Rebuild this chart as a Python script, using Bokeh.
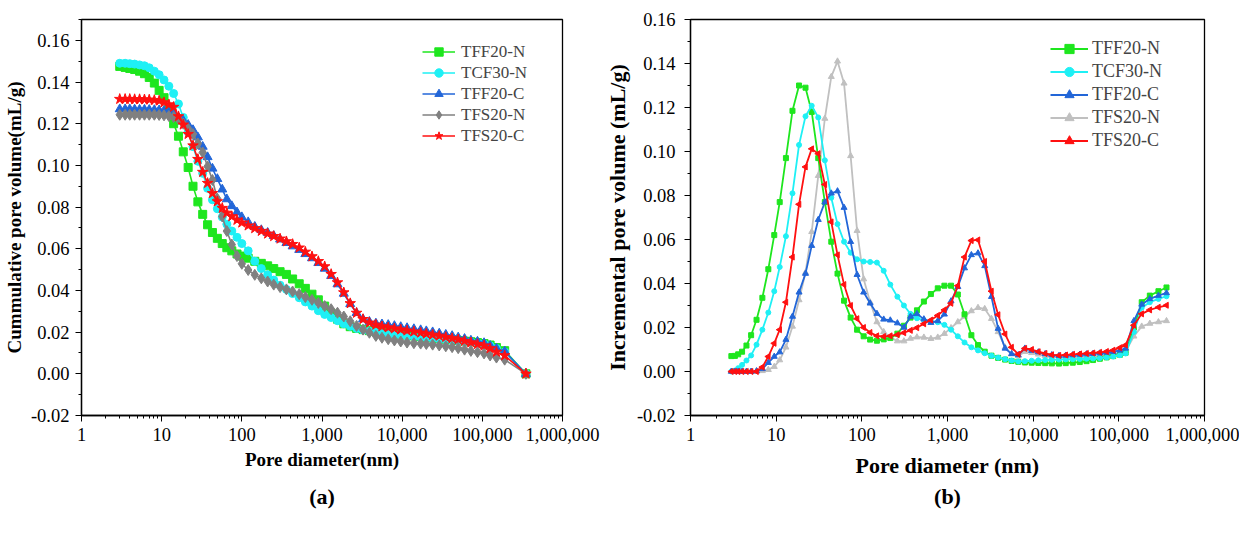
from bokeh.plotting import figure
from bokeh.models import FixedTicker, Legend, LegendItem, Title, Range1d, NumeralTickFormatter
from bokeh.layouts import row
from bokeh.embed import file_html
from bokeh.resources import INLINE

# ---------------- data: (a) cumulative pore volume ----------------
cum_d = [3.0, 3.5, 4.0, 4.6, 5.3, 6.1, 7.0, 8.1, 9.3, 10.7, 12.3, 14.1, 16.2, 18.6, 21.4, 24.6,
         28.3, 32.5, 37.4, 43.0, 49.5, 57, 65, 75, 87, 100, 120, 145, 175, 210, 250, 300, 360,
         430, 520, 620, 750, 900, 1080, 1300, 1560, 1870, 2250, 2700, 3250, 3900, 4700, 5600,
         6700, 8000, 9600, 11500, 14000, 17000, 20000, 24000, 29000, 35000, 42000, 50000, 60000,
         72000, 87000, 105000, 125000, 150000, 190000, 350000]
cum_tff20n = [0.1475, 0.1470, 0.1465, 0.1460, 0.1452, 0.1440, 0.1422, 0.1395, 0.1360, 0.1325, 0.1270,
              0.1200, 0.1140, 0.1065, 0.0990, 0.0900, 0.0825, 0.0765, 0.0715, 0.0678, 0.0650, 0.0625,
              0.0605, 0.0590, 0.0575, 0.0565, 0.0555, 0.0540, 0.0530, 0.0518, 0.0505, 0.0490, 0.0477,
              0.0455, 0.0432, 0.0410, 0.0382, 0.0355, 0.0325, 0.0290, 0.0262, 0.0240, 0.0226, 0.0218,
              0.0212, 0.0207, 0.0203, 0.0200, 0.0197, 0.0194, 0.0190, 0.0186, 0.0182, 0.0178, 0.0175,
              0.0172, 0.0169, 0.0166, 0.0163, 0.0160, 0.0157, 0.0154, 0.0150, 0.0145, 0.0138, 0.0126,
              0.0111, 0.0]
cum_tcf30n = [0.1490, 0.1490, 0.1488, 0.1486, 0.1482, 0.1478, 0.1468, 0.1452, 0.1435, 0.1410, 0.1380,
              0.1345, 0.1295, 0.1230, 0.1160, 0.1090, 0.1020, 0.0962, 0.0890, 0.0835, 0.0792, 0.0752,
              0.0718, 0.0685, 0.0655, 0.0625, 0.0590, 0.0540, 0.0505, 0.0475, 0.0450, 0.0425, 0.0405,
              0.0385, 0.0365, 0.0345, 0.0325, 0.0303, 0.0285, 0.0270, 0.0255, 0.0240, 0.0228, 0.0218,
              0.0210, 0.0204, 0.0200, 0.0196, 0.0192, 0.0188, 0.0185, 0.0182, 0.0179, 0.0176, 0.0173,
              0.0170, 0.0167, 0.0164, 0.0161, 0.0158, 0.0155, 0.0152, 0.0148, 0.0143, 0.0135, 0.0122,
              0.0105, 0.0]
cum_tff20c = [0.1270, 0.1270, 0.1270, 0.1269, 0.1268, 0.1268, 0.1267, 0.1266, 0.1265, 0.1263, 0.1255,
              0.1245, 0.1230, 0.1215, 0.1195, 0.1170, 0.1135, 0.1090, 0.1040, 0.0985, 0.0935, 0.0885,
              0.0838, 0.0805, 0.0775, 0.0752, 0.0728, 0.0706, 0.0690, 0.0677, 0.0662, 0.0645, 0.0628,
              0.0612, 0.0595, 0.0575, 0.0555, 0.0532, 0.0505, 0.0470, 0.0430, 0.0385, 0.0335, 0.0292,
              0.0262, 0.0250, 0.0242, 0.0238, 0.0235, 0.0230, 0.0225, 0.0220, 0.0215, 0.0210, 0.0205,
              0.0200, 0.0194, 0.0188, 0.0182, 0.0175, 0.0168, 0.0160, 0.0155, 0.0148, 0.0135, 0.0122,
              0.0108, 0.0]
cum_tfs20n = [0.1243, 0.1243, 0.1243, 0.1243, 0.1243, 0.1243, 0.1243, 0.1243, 0.1242, 0.1240, 0.1237,
              0.1232, 0.1222, 0.1200, 0.1176, 0.1150, 0.1105, 0.1062, 0.0995, 0.0930, 0.0840, 0.0755,
              0.0685, 0.0620, 0.0565, 0.0528, 0.0498, 0.0475, 0.0458, 0.0443, 0.0428, 0.0416, 0.0405,
              0.0395, 0.0382, 0.0368, 0.0355, 0.0340, 0.0325, 0.0310, 0.0293, 0.0275, 0.0252, 0.0230,
              0.0212, 0.0197, 0.0182, 0.0173, 0.0166, 0.0160, 0.0155, 0.0150, 0.0147, 0.0145, 0.0143,
              0.0140, 0.0136, 0.0132, 0.0128, 0.0123, 0.0116, 0.0110, 0.0104, 0.0098, 0.0088, 0.0078,
              0.0068, 0.0]
cum_tfs20c = [0.1318, 0.1318, 0.1318, 0.1317, 0.1317, 0.1316, 0.1315, 0.1313, 0.1310, 0.1302, 0.1292,
              0.1280, 0.1235, 0.1195, 0.1150, 0.1095, 0.1030, 0.0968, 0.0915, 0.0866, 0.0827, 0.0795,
              0.0772, 0.0755, 0.0738, 0.0725, 0.0711, 0.0698, 0.0685, 0.0672, 0.0660, 0.0648, 0.0635,
              0.0622, 0.0605, 0.0585, 0.0563, 0.0540, 0.0515, 0.0478, 0.0438, 0.0390, 0.0338, 0.0292,
              0.0262, 0.0245, 0.0235, 0.0227, 0.0222, 0.0217, 0.0212, 0.0207, 0.0202, 0.0197, 0.0192,
              0.0187, 0.0182, 0.0176, 0.0170, 0.0164, 0.0157, 0.0150, 0.0142, 0.0135, 0.0122, 0.0105,
              0.0088, 0.0]

# ---------------- data: (b) incremental pore volume ----------------
inc_d = [3.0, 3.3, 3.6, 4.0, 4.5, 5.1, 5.9, 6.9, 8.1, 9.5, 11.0, 13.0, 15.5, 18.5, 22.0, 26.0, 31.0,
         37.0, 44.0, 52.0, 62, 74, 88, 105, 125, 150, 180, 215, 260, 310, 370, 440, 530, 640, 770,
         920, 1100, 1320, 1580, 1900, 2270, 2720, 3260, 3900, 4700, 5600, 6700, 8000, 9600, 11500,
         13800, 16500, 20000, 24000, 29000, 35000, 42000, 50000, 60000, 72000, 86000, 103000,
         120000, 150000, 185000, 230000, 290000, 360000]
inc_tff20n = [0.0070, 0.0071, 0.0078, 0.0090, 0.0118, 0.0165, 0.0235, 0.0335, 0.0465, 0.0620, 0.0770,
              0.0970, 0.1185, 0.1300, 0.1290, 0.1180, 0.0970, 0.0770, 0.0590, 0.0445, 0.0322, 0.0245,
              0.0190, 0.0160, 0.0145, 0.0140, 0.0146, 0.0152, 0.0172, 0.0208, 0.0245, 0.0278, 0.0318,
              0.0352, 0.0378, 0.0390, 0.0390, 0.0350, 0.0260, 0.0165, 0.0120, 0.0090, 0.0072, 0.0062,
              0.0054, 0.0048, 0.0044, 0.0041, 0.0040, 0.0039, 0.0038, 0.0037, 0.0036, 0.0038, 0.0040,
              0.0043, 0.0047, 0.0052, 0.0058, 0.0064, 0.0070, 0.0076, 0.0085, 0.0200, 0.0315, 0.0345,
              0.0365, 0.0382]
inc_tcf30n = [0.0000, 0.0004, 0.0015, 0.0030, 0.0050, 0.0073, 0.0122, 0.0190, 0.0268, 0.0365, 0.0475,
              0.0615, 0.0810, 0.1030, 0.1160, 0.1208, 0.1155, 0.0960, 0.0790, 0.0670, 0.0590, 0.0540,
              0.0510, 0.0500, 0.0498, 0.0495, 0.0458, 0.0395, 0.0340, 0.0300, 0.0262, 0.0242, 0.0233,
              0.0228, 0.0224, 0.0212, 0.0190, 0.0160, 0.0132, 0.0110, 0.0096, 0.0083, 0.0072, 0.0063,
              0.0056, 0.0050, 0.0046, 0.0047, 0.0049, 0.0051, 0.0052, 0.0053, 0.0054, 0.0055, 0.0056,
              0.0057, 0.0058, 0.0059, 0.0061, 0.0064, 0.0068, 0.0074, 0.0082, 0.0180, 0.0290, 0.0315,
              0.0330, 0.0342]
inc_tff20c = [0.0, 0.0, 0.0, 0.0, 0.0, 0.0, 0.0002, 0.0012, 0.0040, 0.0068, 0.0088,
              0.0145, 0.0250, 0.0360, 0.0445, 0.0572, 0.0690, 0.0770, 0.0810, 0.0820, 0.0745, 0.0590,
              0.0440, 0.0360, 0.0310, 0.0263, 0.0237, 0.0233, 0.0220, 0.0200, 0.0250, 0.0262, 0.0238,
              0.0222, 0.0230, 0.0260, 0.0320, 0.0385, 0.0470, 0.0530, 0.0538, 0.0480, 0.0340, 0.0195,
              0.0105, 0.0080, 0.0075, 0.0105, 0.0095, 0.0088, 0.0080, 0.0075, 0.0072, 0.0073, 0.0075,
              0.0077, 0.0079, 0.0081, 0.0083, 0.0086, 0.0090, 0.0096, 0.0105, 0.0230, 0.0305, 0.0330,
              0.0345, 0.0357]
inc_tfs20n = [0.0, 0.0, 0.0, 0.0, 0.0, 0.0, 0.0, 0.0003, 0.0008, 0.0022, 0.0052,
              0.0110, 0.0205, 0.0325, 0.0450, 0.0635, 0.0890, 0.1150, 0.1340, 0.1410, 0.1310, 0.0980,
              0.0640, 0.0420, 0.0315, 0.0225, 0.0180, 0.0155, 0.0138, 0.0138, 0.0150, 0.0156, 0.0155,
              0.0149, 0.0155, 0.0172, 0.0198, 0.0225, 0.0250, 0.0275, 0.0290, 0.0285, 0.0240, 0.0180,
              0.0110, 0.0080, 0.0070, 0.0090, 0.0085, 0.0078, 0.0072, 0.0068, 0.0065, 0.0064, 0.0064,
              0.0065, 0.0066, 0.0067, 0.0069, 0.0072, 0.0076, 0.0082, 0.0092, 0.0160, 0.0205, 0.0218,
              0.0225, 0.0230]
inc_tfs20c = [0.0, 0.0, 0.0, 0.0, 0.0, 0.0, 0.0, 0.0020, 0.0068, 0.0128, 0.0190,
              0.0315, 0.0520, 0.0760, 0.0930, 0.1012, 0.0990, 0.0850, 0.0680, 0.0530, 0.0395, 0.0300,
              0.0240, 0.0200, 0.0177, 0.0162, 0.0159, 0.0162, 0.0167, 0.0176, 0.0187, 0.0199, 0.0217,
              0.0234, 0.0255, 0.0280, 0.0310, 0.0390, 0.0520, 0.0595, 0.0598, 0.0500, 0.0365, 0.0258,
              0.0170, 0.0110, 0.0078, 0.0105, 0.0100, 0.0090, 0.0082, 0.0076, 0.0073, 0.0075, 0.0078,
              0.0080, 0.0082, 0.0084, 0.0087, 0.0091, 0.0097, 0.0108, 0.0120, 0.0210, 0.0262, 0.0280,
              0.0292, 0.0301]

series_names = ["TFF20-N", "TCF30-N", "TFF20-C", "TFS20-N", "TFS20-C"]
x_ticks = [1, 10, 100, 1000, 10000, 100000, 1000000]
x_tick_labels = ["1", "10", "100", "1,000", "10,000", "100,000", "1,000,000"]
y_ticks = [-0.02, 0.0, 0.02, 0.04, 0.06, 0.08, 0.10, 0.12, 0.14, 0.16]

FONT = "Liberation Serif"
x_minor = [m * 10 ** k for k in range(6) for m in range(2, 10)]
y_minor = [-0.02 + 0.01 * i for i in range(20)]


def style(p, tick_size, label_size, xl_std, xa_std, yl_std, ya_std):
    p.xgrid.visible = False
    p.ygrid.visible = False
    p.outline_line_color = "black"
    p.outline_line_width = 1.3
    p.xaxis.ticker = FixedTicker(ticks=x_ticks, minor_ticks=x_minor)
    p.xaxis.major_label_overrides = {t: s for t, s in zip(x_ticks, x_tick_labels)}
    p.yaxis.ticker = FixedTicker(ticks=y_ticks, minor_ticks=y_minor)
    p.yaxis.formatter = NumeralTickFormatter(format="0.00")
    for ax in (p.xaxis[0], p.yaxis[0]):
        ax.axis_line_color = "black"
        ax.axis_line_width = 1.3
        ax.major_tick_line_color = "black"
        ax.minor_tick_line_color = "black"
        ax.major_tick_in = 0
        ax.major_tick_out = 6
        ax.minor_tick_in = 0
        ax.minor_tick_out = 3
        ax.major_label_text_font = FONT
        ax.major_label_text_font_size = tick_size
        ax.major_label_text_color = "black"
        ax.axis_label_text_font = FONT
        ax.axis_label_text_font_style = "bold"
        ax.axis_label_text_font_size = label_size
        ax.axis_label_text_color = "black"
    p.xaxis.major_label_standoff = xl_std
    p.xaxis.axis_label_standoff = xa_std
    p.yaxis.major_label_standoff = yl_std
    p.yaxis.axis_label_standoff = ya_std
    p.yaxis.major_label_orientation = "horizontal"


# ---------------- figure (a) ----------------
pa = figure(width=600, height=528, x_axis_type="log",
            x_range=Range1d(1, 1e6), y_range=Range1d(-0.02, 0.17),
            min_border_left=78, min_border_right=38, min_border_top=19, min_border_bottom=113,
            output_backend="svg", toolbar_location=None)
style(pa, "18.5px", "19px", 6, 5, 6, 3)
pa.xaxis.axis_label = "Pore diameter(nm)"
pa.yaxis.axis_label = "Cummulative pore volume(mL/g)"

cum_series = [cum_tff20n, cum_tcf30n, cum_tff20c, cum_tfs20n, cum_tfs20c]
cum_colors = ["#1ee61e", "#1ef0f5", "#2266d8", "#808080", "#ff1010"]
cum_markers = ["square", "circle", "triangle", "diamond", "star"]
cum_sizes = [8, 8, 9, 11, 11]
items_a = []
for name, ys, c, m, s in zip(series_names, cum_series, cum_colors, cum_markers, cum_sizes):
    lr = pa.line(cum_d, ys, line_color=c, line_width=1.6)
    sr = pa.scatter(cum_d, ys, marker=m, size=s, fill_color=c, line_color=c)
    items_a.append(LegendItem(label=name, renderers=[lr, sr]))
leg_a = Legend(items=items_a, location=(341, 269), padding=0, spacing=0, margin=0,
               glyph_width=33, glyph_height=21, label_height=21, label_standoff=6,
               label_text_font=FONT, label_text_font_size="17px",
               border_line_alpha=0, background_fill_alpha=0)
pa.add_layout(leg_a, "center")
cap_a = Title(text="(a)", align="center", offset=-24, standoff=18, text_font=FONT,
              text_font_size="22px", text_font_style="bold", text_color="black")
pa.add_layout(cap_a, "below")

# ---------------- figure (b) ----------------
pb = figure(width=639, height=528, x_axis_type="log",
            x_range=Range1d(1, 1e6), y_range=Range1d(-0.02, 0.16),
            min_border_left=90, min_border_right=35, min_border_top=14, min_border_bottom=104,
            output_backend="svg", toolbar_location=None)
style(pb, "18.5px", "22px", 6, 9, 9, 4)
pb.xaxis.axis_label = "Pore diameter (nm)"
pb.yaxis.axis_label = "Incremental pore volume (mL/g)"

inc_series = [inc_tff20n, inc_tcf30n, inc_tff20c, inc_tfs20n, inc_tfs20c]
inc_colors = ["#1ee61e", "#1ef0f5", "#2266d8", "#c0c0c0", "#ff1010"]
inc_markers = ["square", "circle", "triangle", "triangle", "triangle"]
inc_angles = [0, 0, 0, 0, 1.5708]
inc_sizes = [5, 5, 6, 6, 6]
order = [3, 0, 1, 2, 4]
items_b = [None] * 5
for i in order:
    lr = pb.line(inc_d, inc_series[i], line_color=inc_colors[i], line_width=1.8)
    sr = pb.scatter(inc_d, inc_series[i], marker=inc_markers[i], size=inc_sizes[i], angle=inc_angles[i],
                    fill_color=inc_colors[i], line_color=inc_colors[i])
    items_b[i] = LegendItem(label=series_names[i], renderers=[lr, sr])
leg_b = Legend(items=items_b, location=(360, 263), padding=0, spacing=0, margin=0,
               glyph_width=38, glyph_height=23, label_height=23, label_standoff=4,
               label_text_font=FONT, label_text_font_size="18px",
               border_line_alpha=0, background_fill_alpha=0)
pb.add_layout(leg_b, "center")
cap_b = Title(text="(b)", align="center", offset=-21, standoff=3, text_font=FONT,
              text_font_size="22px", text_font_style="bold", text_color="black")
pb.add_layout(cap_b, "below")

layout = row(pa, pb)
open("out.html", "w").write(file_html(layout, INLINE))
